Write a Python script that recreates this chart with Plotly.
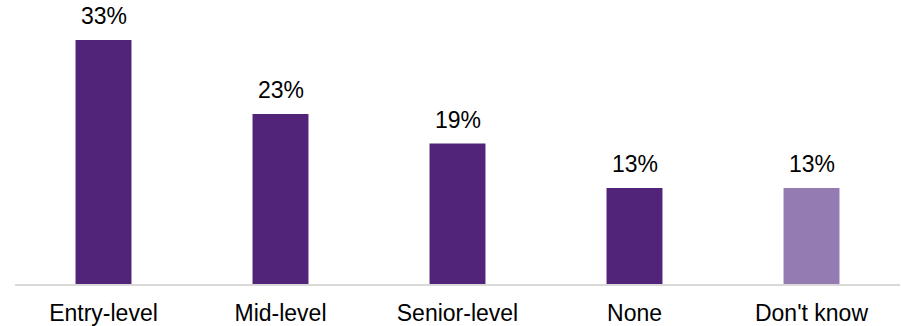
import plotly.graph_objects as go

categories = ["Entry-level", "Mid-level", "Senior-level", "None", "Don't know"]
values = [33, 23, 19, 13, 13]
colors = ["#51247A", "#51247A", "#51247A", "#51247A", "#947BB2"]
labels = [f"{v}%" for v in values]

fig = go.Figure()
fig.add_trace(go.Bar(
    x=categories, y=values, marker=dict(color=colors, line=dict(width=0)),
    hoverinfo="skip", showlegend=False,
))
for c, v, t in zip(categories, values, labels):
    fig.add_annotation(x=c, y=v, text=t, showarrow=False, yanchor="bottom", yshift=9,
                       font=dict(family="Liberation Sans, Arial", size=23, color="#000000"))

fig.update_layout(
    width=901, height=326,
    margin=dict(l=15, r=1, t=10, b=42),
    paper_bgcolor="white", plot_bgcolor="white",
    bargap=0.684,
    font=dict(family="Liberation Sans, Arial", size=23, color="#000000"),
)
fig.update_xaxes(showline=True, linecolor="#D9D9D9", linewidth=1.5, ticks="", showgrid=False,
                 tickfont=dict(size=23, color="#000000"), ticklabelstandoff=8)
fig.update_yaxes(range=[0, 37.06], visible=False, showgrid=False, zeroline=False)
fig.write_html("out.html")
